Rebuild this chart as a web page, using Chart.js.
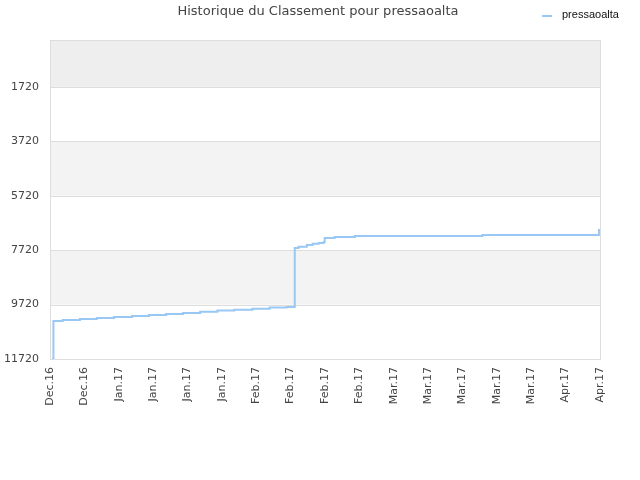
<!DOCTYPE html>
<html>
<head>
<meta charset="utf-8">
<script src="https://cdn.jsdelivr.net/npm/chart.js@4/dist/chart.umd.min.js"></script>
<style>
  html, body { margin: 0; padding: 0; background: #fff; }
  #wrap { width: 640px; height: 480px; }
</style>
</head>
<body>
<div id="wrap"><canvas id="rankChart"></canvas></div>
<script>
// Données
const titre = 'Historique du Classement pour pressaoalta';
const nomSerie = 'pressaoalta';
const etiquettesX = ['Dec.16', 'Dec.16', 'Jan.17', 'Jan.17', 'Jan.17', 'Jan.17', 'Feb.17', 'Feb.17', 'Feb.17', 'Feb.17',
  'Mar.17', 'Mar.17', 'Mar.17', 'Mar.17', 'Mar.17', 'Apr.17', 'Apr.17'];
const ticksY = [1720, 3720, 5720, 7720, 9720, 11720];
// position en unités de graduation (0 = Dec.16, 16 = Apr.17)
const positions = [0.06, 0.1, 0.37, 0.87, 1.36, 1.86, 2.39, 2.88, 3.38, 3.87, 4.37, 4.87, 5.36, 5.89, 6.39, 6.88,
  7.12, 7.23, 7.47, 7.64, 7.82, 7.96, 7.99, 8.28, 8.87, 12.58, 15.97];
const classement = [11720, 10320, 10290, 10250, 10210, 10180, 10140, 10100, 10070, 10030, 9980, 9940, 9910, 9870, 9830, 9810,
  7640, 7600, 7530, 7490, 7460, 7420, 7270, 7240, 7200, 7160, 6940];

const points = positions.map((x, i) => ({ x: x, y: classement[i] }));

// Bandes alternées, bordure, titre et légende
const decor = {
  id: 'decor',
  beforeDatasetsDraw(chart) {
    const ctx = chart.ctx;
    const a = chart.chartArea;
    const y = chart.scales.y;
    ctx.save();
    ctx.fillStyle = '#eeeeee';
    ctx.fillRect(a.left, a.top, a.right - a.left, y.getPixelForValue(ticksY[0]) - a.top);
    ctx.fillStyle = '#f3f3f3';
    for (let i = 1; i < ticksY.length - 1; i += 2) {
      const t = y.getPixelForValue(ticksY[i]);
      const b = y.getPixelForValue(ticksY[i + 1]);
      ctx.fillRect(a.left, t, a.right - a.left, b - t);
    }
    ctx.strokeStyle = '#dddddd';
    ctx.lineWidth = 1;
    ticksY.forEach(v => {
      const p = Math.round(y.getPixelForValue(v)) + 0.5;
      ctx.beginPath();
      ctx.moveTo(a.left, p);
      ctx.lineTo(a.right, p);
      ctx.stroke();
    });
    ctx.strokeRect(Math.round(a.left) + 0.5, Math.round(a.top) + 0.5, Math.round(a.right - a.left), Math.round(a.bottom - a.top));
    ctx.restore();
  },
  afterDraw(chart) {
    const ctx = chart.ctx;
    ctx.save();
    ctx.fillStyle = '#444444';
    ctx.font = '13px "DejaVu Sans"';
    ctx.textAlign = 'center';
    ctx.textBaseline = 'middle';
    ctx.fillText(titre, 318, 12);
    ctx.strokeStyle = '#99c8f5';
    ctx.lineWidth = 2;
    ctx.beginPath();
    ctx.moveTo(542, 16);
    ctx.lineTo(552, 16);
    ctx.stroke();
    ctx.fillStyle = '#111111';
    ctx.font = '11px "Liberation Sans"';
    ctx.textAlign = 'left';
    ctx.fillText(nomSerie, 562, 15);
    ctx.restore();
  }
};

const ctx = document.getElementById('rankChart').getContext('2d');
new Chart(ctx, {
  type: 'line',
  data: {
    datasets: [{
      label: nomSerie,
      data: points,
      stepped: 'before',
      borderColor: '#99c8f5',
      borderWidth: 2,
      pointRadius: 0,
      fill: false
    }]
  },
  options: {
    responsive: true,
    maintainAspectRatio: false,
    animation: false,
    layout: { padding: { top: 40, right: 40, left: 0, bottom: 0 } },
    plugins: {
      legend: { display: false },
      title: { display: false },
      tooltip: { enabled: false }
    },
    scales: {
      x: {
        type: 'linear',
        min: 0,
        max: 16,
        afterBuildTicks: axis => { axis.ticks = etiquettesX.map((_, i) => ({ value: i })); },
        afterFit: axis => { axis.height = 121; },
        grid: { display: false, drawTicks: false },
        border: { display: false },
        ticks: {
          autoSkip: false,
          minRotation: 90,
          maxRotation: 90,
          padding: 8,
          color: '#444444',
          font: { family: 'DejaVu Sans', size: 11 },
          callback: (v) => etiquettesX[v]
        }
      },
      y: {
        reverse: true,
        min: 0,
        max: 11720,
        afterBuildTicks: axis => { axis.ticks = ticksY.map(v => ({ value: v })); },
        afterFit: axis => { axis.width = 50; },
        grid: { display: false, drawTicks: false },
        border: { display: false },
        ticks: {
          padding: 11,
          color: '#444444',
          font: { family: 'DejaVu Sans', size: 11 },
          callback: (v) => String(v)
        }
      }
    }
  },
  plugins: [decor]
});
</script>
</body>
</html>
